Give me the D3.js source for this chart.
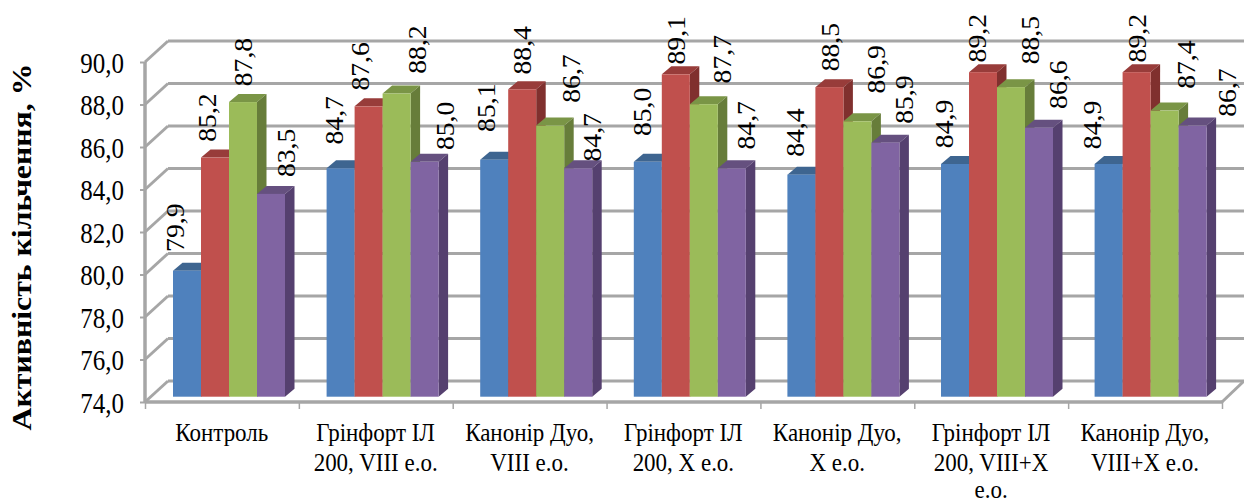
<!DOCTYPE html>
<html><head><meta charset="utf-8">
<script src="https://cdn.jsdelivr.net/npm/d3@7"></script>
<style>html,body{margin:0;background:#fff}svg{display:block}text{font-family:"Liberation Serif",serif;fill:#000}</style>
</head><body><svg id="c" width="1244" height="504"></svg>
<script>
const categories = ["Контроль","Грінфорт ІЛ\n200, VIII е.о.","Канонір Дуо,\nVIII е.о.","Грінфорт ІЛ\n200, Х е.о.","Канонір Дуо,\nХ е.о.","Грінфорт ІЛ\n200, VIII+Х\nе.о.","Канонір Дуо,\nVIII+Х е.о."];
const series1 = [79.9,84.7,85.1,85.0,84.4,84.9,84.9];
const series2 = [85.2,87.6,88.4,89.1,88.5,89.2,89.2];
const series3 = [87.8,88.2,86.7,87.7,86.9,88.5,87.4];
const series4 = [83.5,85.0,84.7,84.7,85.9,86.6,86.7];
const yTicks = [74,76,78,80,82,84,86,88,90];
const yTitle = "Активність кільчення, %";

const allSeries=[series1,series2,series3,series4];
const faces=[["#4f81bd","#3e6590","#35567c"],["#c0504d","#983c3a","#80302e"],["#9bbb59","#7a9546","#677d3a"],["#8064a2","#65507f","#55406f"]];
// hand placement of the value labels, relative to bar-top centre (series x category)
const nudges=[
[[-11,-43],[-6,-48],[-7,-52],[-5,-50],[-5,-42],[-10,-40],[-16,-39]],
[[-7,-40],[-8,-40],[1,-39],[1,-34],[2,-40],[-5,-34],[1,-34]],
[[1,-40],[21,-44],[22,-47],[19,-45],[20,-52],[20,-47],[22,-46]],
[[16,-41],[21,-36],[15,-31],[15,-43],[20,-43],[20,-43],[35,-33]]];

const svg=d3.select("#c");
const SY=1.2, LSY=1.13, CSY=1.1, GRID="#a6a6a6";
const lineBase=[441,471,498];
const yAxisFront=d3.scaleLinear().domain([74,90]).range([402,62]);
const yBack=v=>yAxisFront(v)-21;
const yBar=d3.scaleLinear().domain([74,90]).range([396.7,55.1]);
const xCat=d3.scaleBand().domain(d3.range(categories.length)).range([145,1220.2]);
const xTick=d3.scaleLinear().domain([0,7]).range([145,1222]);
const xBar=d3.scaleBand().domain(d3.range(4)).range([0,112]);
const barLeft=g=>xCat(g)+28;
const dx=9.5,dy=8,BX=23;

// walls
const wall=svg.append("g").attr("fill","none").attr("stroke",GRID);
yTicks.forEach(v=>{
  wall.append("line").attr("x1",145+BX).attr("x2",1244).attr("y1",yBack(v)).attr("y2",yBack(v)).attr("stroke-width",3);
  wall.append("line").attr("x1",145).attr("x2",145+BX).attr("y1",yAxisFront(v)).attr("y2",yBack(v)).attr("stroke-width",3);
});
wall.append("line").attr("x1",1222).attr("x2",1244).attr("y1",402).attr("y2",381).attr("stroke-width",3);

// y axis
const ya=svg.append("g").attr("transform","translate(145,0)").call(d3.axisLeft(yAxisFront).tickValues(yTicks).tickSize(5).tickPadding(0).tickFormat(v=>d3.format(".1f")(v).replace(".",",")));
ya.select(".domain").attr("stroke",GRID).attr("stroke-width",3.5).attr("d","M0,62V402");
ya.selectAll("line").attr("stroke",GRID).attr("stroke-width",2);
ya.selectAll("text").attr("font-size",25).attr("text-anchor","end").attr("dy",null).attr("x",null)
  .attr("transform",`translate(-21,10) scale(1,${SY})`);

// x axis
const xa=svg.append("g").attr("transform","translate(0,402)").call(d3.axisBottom(xTick).tickValues(d3.range(8)).tickSize(7).tickFormat(""));
xa.select(".domain").attr("stroke",GRID).attr("stroke-width",3.5).attr("d","M145,0H1222");
xa.selectAll("line").attr("stroke",GRID).attr("stroke-width",1.5);

// bars
const bars=svg.append("g");
categories.forEach((c,g)=>allSeries.forEach((s,i)=>{
  const x0=barLeft(g)+xBar(i),w=xBar.bandwidth(),yt=yBar(s[g]),yb=yBar(74);
  bars.append("polygon").attr("fill",faces[i][1]).attr("points",[[x0,yt],[x0+dx,yt-dy],[x0+w+dx,yt-dy],[x0+w,yt]].join(" "));
  bars.append("polygon").attr("fill",faces[i][2]).attr("points",[[x0+w,yt],[x0+w+dx,yt-dy],[x0+w+dx,yb-dy],[x0+w,yb]].join(" "));
  bars.append("rect").attr("fill",faces[i][0]).attr("x",x0).attr("y",yt).attr("width",w).attr("height",yb-yt);
}));

// value labels
const lab=svg.append("g");
categories.forEach((c,g)=>allSeries.forEach((s,i)=>{
  const [nx,ny]=nudges[i][g];
  lab.append("text").attr("font-size",24.5).attr("text-anchor","middle")
    .attr("transform",`translate(${barLeft(g)+xBar(i)+14+nx+8},${yBar(s[g])+ny}) scale(1,${LSY}) rotate(-90)`)
    .text(s[g].toFixed(1).replace(".",","));
}));

// category labels
categories.forEach((c,g)=>{
  c.split("\n").forEach((t,k)=>{
    svg.append("text").attr("font-size",23).attr("text-anchor","middle")
      .attr("transform",`translate(${xTick(g)+xCat.bandwidth()/2},${lineBase[k]}) scale(1,${CSY})`).text(t);
  });
});

// y title
svg.append("text").attr("font-size",26.5).attr("font-weight","bold").attr("text-anchor","middle")
  .attr("transform",`translate(31,247) scale(1,${SY}) rotate(-90)`).text(yTitle);
</script></body></html>
